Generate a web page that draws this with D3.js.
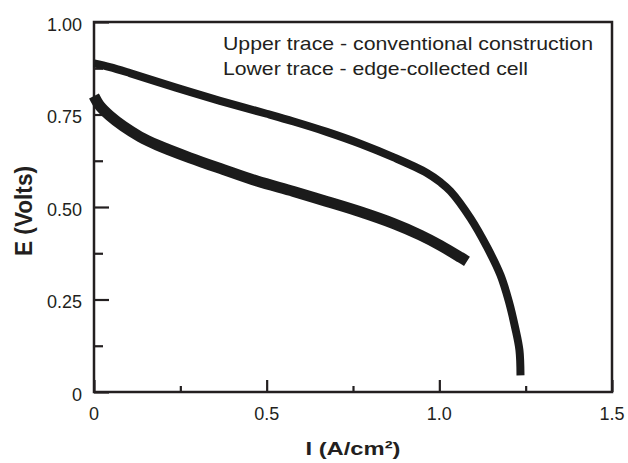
<!DOCTYPE html>
<html><head><meta charset="utf-8">
<script src="https://cdn.jsdelivr.net/npm/d3@7"></script>
<style>body{margin:0;background:#fff} svg{display:block}</style>
</head><body><svg id="c" width="628" height="463"></svg>
<script>
// ---- data ----
const upperI = [0, 0.046, 0.104, 0.182, 0.278, 0.365, 0.5, 0.578, 0.674, 0.771, 0.868, 0.964, 1.003, 1.032, 1.09, 1.138, 1.177, 1.201, 1.22, 1.232, 1.235];
const upperE = [0.888, 0.878, 0.862, 0.839, 0.811, 0.787, 0.752, 0.731, 0.703, 0.671, 0.634, 0.592, 0.567, 0.543, 0.47, 0.392, 0.316, 0.246, 0.172, 0.113, 0.045];
const lowerI = [0, 0.017, 0.046, 0.085, 0.133, 0.182, 0.278, 0.375, 0.472, 0.578, 0.674, 0.771, 0.868, 0.945, 1.003, 1.061, 1.08];
const lowerE = [0.8, 0.773, 0.746, 0.718, 0.69, 0.668, 0.633, 0.601, 0.57, 0.542, 0.515, 0.487, 0.455, 0.424, 0.396, 0.364, 0.353];
const xTickValues = [0, 0.5, 1.0, 1.5];
const xTickLabels = ["0", "0.5", "1.0", "1.5"];
const xMinorTicks = [0.25, 0.75, 1.25];
const yTickValues = [0, 0.25, 0.5, 0.75, 1.0];
const yTickLabels = ["0", "0.25", "0.50", "0.75", "1.00"];
const yMinorTicks = [0.125, 0.375, 0.625, 0.875];
const legendLines = ["Upper trace - conventional construction", "Lower trace - edge-collected cell"];
const xTitle = "I (A/cm\u00B2)";
const yTitle = "E (Volts)";

// ---- drawing ----
const svg = d3.select("#c");
const ink = "#231f20";
const font = "'Liberation Sans', Arial, Helvetica, sans-serif";
const L = 94, R = 612, T = 22, B = 392;
const x = d3.scaleLinear().domain([0, 1.5]).range([L, R]);
const y = d3.scaleLinear().domain([0, 1.0]).range([B, T]);

// x axis ticks (inward)
const xAxisMajor = d3.axisTop(x).tickValues(xTickValues).tickSize(12).tickFormat("");
const xAxisMinor = d3.axisTop(x).tickValues(xMinorTicks).tickSize(6).tickFormat("");
[xAxisMajor, xAxisMinor].forEach(a => {
  const g = svg.append("g").attr("transform", `translate(0,${B})`).call(a);
  g.select(".domain").remove();
  g.selectAll("line").attr("stroke", ink).attr("stroke-width", 2.2);
});
const yAxisMajor = d3.axisRight(y).tickValues(yTickValues).tickSize(15).tickFormat("");
const yAxisMinor = d3.axisRight(y).tickValues(yMinorTicks).tickSize(9).tickFormat("");
[yAxisMajor, yAxisMinor].forEach(a => {
  const g = svg.append("g").attr("transform", `translate(${L},0)`).call(a);
  g.select(".domain").remove();
  g.selectAll("line").attr("stroke", ink).attr("stroke-width", 2.2);
});

// tick labels
svg.append("g").selectAll("text").data(xTickValues).join("text")
  .attr("x", d => x(d)).attr("y", 420)
  .attr("text-anchor", "middle")
  .attr("font-family", font).attr("font-size", 18).attr("fill", ink)
  .text((d, i) => xTickLabels[i]);
svg.append("g").selectAll("text").data(yTickValues).join("text")
  .attr("x", 82).attr("y", d => y(d) + 8.5)
  .attr("text-anchor", "end")
  .attr("font-family", font).attr("font-size", 18).attr("fill", ink)
  .text((d, i) => yTickLabels[i]);

// frame
svg.append("rect").attr("x", L).attr("y", T).attr("width", R - L).attr("height", B - T)
  .attr("fill", "none").attr("stroke", ink).attr("stroke-width", 2.5);

// traces
const line = d3.line().x(d => x(d[0])).y(d => y(d[1])).curve(d3.curveCatmullRom.alpha(0.5));
const upper = upperI.map((v, i) => [v, upperE[i]]);
const lower = lowerI.map((v, i) => [v, lowerE[i]]);
svg.append("path").datum(lower).attr("d", line)
  .attr("fill", "none").attr("stroke", "#1b1b1b").attr("stroke-width", 11).attr("stroke-linejoin", "round");
svg.append("path").datum(upper).attr("d", line)
  .attr("fill", "none").attr("stroke", "#1b1b1b").attr("stroke-width", 8).attr("stroke-linejoin", "round");

// legend text
const legendLen = [370, 305];
svg.append("g").selectAll("text").data(legendLines).join("text")
  .attr("x", 223).attr("y", (d, i) => 49.5 + i * 25.5)
  .attr("font-family", font).attr("font-size", 18.5).attr("fill", ink)
  .attr("textLength", (d, i) => legendLen[i]).attr("lengthAdjust", "spacingAndGlyphs")
  .text(d => d);

// axis titles
svg.append("text").attr("x", (L + R) / 2).attr("y", 455)
  .attr("text-anchor", "middle").attr("font-family", font).attr("font-weight", "bold")
  .attr("font-size", 18.5).attr("fill", ink)
  .attr("textLength", 95).attr("lengthAdjust", "spacingAndGlyphs")
  .text(xTitle);
svg.append("text")
  .attr("transform", "translate(32,211) scale(1.15,1) rotate(-90)")
  .attr("text-anchor", "middle").attr("font-family", font).attr("font-weight", "bold")
  .attr("font-size", 20).attr("fill", ink)
  .attr("textLength", 90).attr("lengthAdjust", "spacingAndGlyphs")
  .text(yTitle);
</script></body></html>
